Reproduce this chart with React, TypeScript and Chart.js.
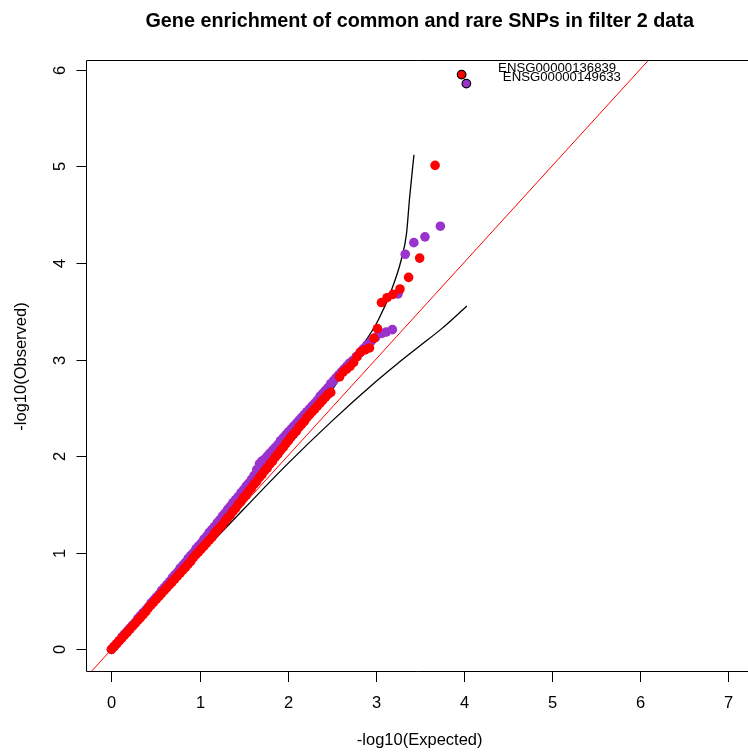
import React, { useEffect, useRef } from "react";
import { Chart, registerables } from "chart.js";

Chart.register(...registerables);

const TITLE = "Gene enrichment of common and rare SNPs in filter 2 data";
const X_TITLE = "-log10(Expected)";
const Y_TITLE = "-log10(Observed)";
const X_TICKS = [0, 1, 2, 3, 4, 5, 6, 7];
const Y_TICKS = [0, 1, 2, 3, 4, 5, 6];

// dense part of the QQ band (expected -log10 p)
const BAND_EXPECTED = [
  0.0, 0.03, 0.06, 0.09, 0.12, 0.15, 0.18, 0.21, 0.24, 0.27, 0.3, 0.33, 0.36, 0.39, 0.42, 0.45, 0.48,
  0.51, 0.54, 0.57, 0.6, 0.63, 0.66, 0.69, 0.72, 0.75, 0.78, 0.81, 0.84, 0.87, 0.9, 0.93, 0.96, 0.99,
  1.02, 1.05, 1.08, 1.11, 1.14, 1.17, 1.2, 1.23, 1.26, 1.29, 1.32, 1.35, 1.38, 1.41, 1.44, 1.47, 1.5,
  1.53, 1.56, 1.59, 1.62, 1.65, 1.68, 1.71, 1.74, 1.77, 1.8, 1.83, 1.86, 1.89, 1.92, 1.95, 1.98, 2.01,
  2.04, 2.07, 2.1, 2.13, 2.16, 2.19, 2.22, 2.25, 2.28, 2.31, 2.34, 2.37, 2.4, 2.43, 2.46, 2.49,
];
const PURPLE_BAND_OBSERVED = [
  0.0, 0.03, 0.06, 0.09, 0.13, 0.16, 0.19, 0.22, 0.25, 0.28, 0.32, 0.35, 0.38, 0.41, 0.44, 0.48, 0.51,
  0.54, 0.57, 0.61, 0.64, 0.67, 0.7, 0.74, 0.77, 0.8, 0.84, 0.87, 0.9, 0.94, 0.97, 1.0, 1.04, 1.07,
  1.1, 1.14, 1.17, 1.21, 1.24, 1.27, 1.31, 1.34, 1.38, 1.41, 1.45, 1.48, 1.52, 1.55, 1.58, 1.62, 1.65,
  1.69, 1.72, 1.76, 1.8, 1.86, 1.92, 1.95, 1.97, 2.0, 2.03, 2.06, 2.09, 2.12, 2.16, 2.19, 2.22, 2.25,
  2.28, 2.31, 2.34, 2.37, 2.4, 2.43, 2.46, 2.49, 2.52, 2.55, 2.58, 2.62, 2.65, 2.68, 2.71, 2.75,
];
const RED_BAND_OBSERVED = [
  0.0, 0.03, 0.06, 0.09, 0.12, 0.15, 0.18, 0.21, 0.24, 0.27, 0.3, 0.33, 0.36, 0.39, 0.43, 0.46, 0.49,
  0.52, 0.55, 0.58, 0.61, 0.64, 0.67, 0.7, 0.73, 0.76, 0.79, 0.82, 0.85, 0.88, 0.91, 0.95, 0.98, 1.01,
  1.04, 1.07, 1.1, 1.13, 1.16, 1.2, 1.23, 1.26, 1.29, 1.33, 1.36, 1.39, 1.43, 1.46, 1.5, 1.53, 1.57,
  1.6, 1.64, 1.67, 1.71, 1.74, 1.78, 1.81, 1.85, 1.88, 1.92, 1.95, 1.99, 2.02, 2.06, 2.09, 2.13, 2.16,
  2.2, 2.23, 2.26, 2.3, 2.33, 2.36, 2.4, 2.43, 2.46, 2.49, 2.52, 2.55, 2.58, 2.61, 2.64, 2.66,
];

// sparse upper tail
const PURPLE_TAIL_EXPECTED = [
  2.52, 2.55, 2.58, 2.61, 2.64, 2.67, 2.7, 2.74, 2.78, 2.82, 2.86, 2.9, 2.95, 3.0, 3.07, 3.12, 3.19,
  3.254, 3.336, 3.434, 3.56, 3.735,
];
const PURPLE_TAIL_OBSERVED = [
  2.78, 2.81, 2.84, 2.87, 2.9, 2.93, 2.96, 2.99, 3.03, 3.07, 3.11, 3.15, 3.19, 3.23, 3.27, 3.285, 3.31,
  3.68, 4.09, 4.21, 4.27, 4.38,
];
const RED_TAIL_EXPECTED = [
  2.59, 2.63, 2.67, 2.71, 2.75, 2.79, 2.83, 2.88, 2.93, 2.98, 3.02, 3.066, 3.13, 3.197, 3.276, 3.374,
  3.5, 3.675,
];
const RED_TAIL_OBSERVED = [
  2.82, 2.87, 2.9, 2.93, 2.97, 3.03, 3.08, 3.1, 3.12, 3.22, 3.32, 3.59, 3.64, 3.675, 3.73, 3.85, 4.05,
  5.01,
];

// labelled top genes (red series, purple series)
const TOP_GENES = ["ENSG00000136839", "ENSG00000149633"];
const TOP_EXPECTED = [3.976, 4.03];
const TOP_OBSERVED = [5.949, 5.856];

// confidence band
const UPPER_CI_EXPECTED = [0, 0.5, 1.0, 1.5, 2.0, 2.5, 2.84, 3.03, 3.18, 3.29, 3.35, 3.386, 3.435];
const UPPER_CI_OBSERVED = [0, 0.51, 1.03, 1.55, 2.09, 2.68, 3.13, 3.41, 3.72, 4.03, 4.3, 4.68, 5.12];
const LOWER_CI_EXPECTED = [0, 0.5, 1.0, 1.5, 2.0, 2.5, 3.0, 3.25, 3.5, 3.75, 4.036];
const LOWER_CI_OBSERVED = [0, 0.49, 0.974, 1.45, 1.92, 2.36, 2.77, 2.96, 3.14, 3.32, 3.554];

// identity line endpoints
const IDENTITY = [-1, 8];

const RED = "#FF0000";
const PURPLE = "#9A32CD";
const FONT = '"Liberation Sans", Arial, Helvetica, sans-serif';

const pts = (xs: number[], ys: number[]) => xs.map((x, i) => ({ x, y: ys[i] }));

const rAxesPlugin = {
  id: "rAxes",
  afterDraw(chart: any) {
    const { ctx, chartArea: ca, scales } = chart;
    const xs = scales.x;
    const ys = scales.y;
    ctx.save();
    ctx.strokeStyle = "#000";
    ctx.lineWidth = 1;
    // box (right side falls outside the picture)
    ctx.beginPath();
    ctx.moveTo(ca.right + 10, ca.top - 0.5);
    ctx.lineTo(ca.left - 0.5, ca.top - 0.5);
    ctx.lineTo(ca.left - 0.5, ca.bottom - 0.5);
    ctx.lineTo(ca.right + 10, ca.bottom - 0.5);
    ctx.stroke();

    ctx.fillStyle = "#000";
    ctx.font = `16.5px ${FONT}`;
    // x ticks
    ctx.textAlign = "center";
    ctx.textBaseline = "alphabetic";
    X_TICKS.forEach((v) => {
      const px = Math.round(xs.getPixelForValue(v)) + 0.5;
      ctx.beginPath();
      ctx.moveTo(px, ca.bottom - 0.5);
      ctx.lineTo(px, ca.bottom + 10);
      ctx.stroke();
      ctx.fillText(String(v), px, ca.bottom + 36);
    });
    // y ticks (rotated labels)
    Y_TICKS.forEach((v) => {
      const py = Math.round(ys.getPixelForValue(v)) + 0.5;
      ctx.beginPath();
      ctx.moveTo(ca.left - 0.5, py);
      ctx.lineTo(ca.left - 10.5, py);
      ctx.stroke();
      ctx.save();
      ctx.translate(ca.left - 22, py);
      ctx.rotate(-Math.PI / 2);
      ctx.fillText(String(v), 0, 0);
      ctx.restore();
    });
    const cx = xs.getPixelForValue(3.5);
    const cy = (ca.top + ca.bottom) / 2;
    // axis titles
    ctx.fillText(X_TITLE, cx, ca.bottom + 73);
    ctx.save();
    ctx.translate(ca.left - 61, cy);
    ctx.rotate(-Math.PI / 2);
    ctx.fillText(Y_TITLE, 0, 0);
    ctx.restore();
    // main title
    ctx.font = `bold 19.8px ${FONT}`;
    ctx.fillText(TITLE, cx, 27);
    // gene labels
    ctx.font = `13.2px ${FONT}`;
    ctx.textAlign = "left";
    TOP_GENES.forEach((g, i) => {
      const px = xs.getPixelForValue(TOP_EXPECTED[i]);
      const py = ys.getPixelForValue(TOP_OBSERVED[i]);
      ctx.fillText(g, px + 36.5, py - 3);
    });
    ctx.restore();
  },
};

export default function App() {
  const ref = useRef<HTMLCanvasElement>(null);
  useEffect(() => {
    if (!ref.current) return;
    const chart = new Chart(ref.current, {
      type: "scatter",
      data: {
        datasets: [
          {
            label: "top genes",
            data: pts(TOP_EXPECTED, TOP_OBSERVED),
            pointBackgroundColor: [RED, PURPLE],
            pointBorderColor: "#000",
            pointBorderWidth: 1.2,
            pointRadius: 4.3,
            showLine: false,
          },
          {
            label: "rare",
            data: [...pts(BAND_EXPECTED, RED_BAND_OBSERVED), ...pts(RED_TAIL_EXPECTED, RED_TAIL_OBSERVED)],
            pointBackgroundColor: RED,
            pointBorderWidth: 0,
            pointRadius: 4.8,
            showLine: false,
          },
          {
            label: "common",
            data: [
              ...pts(BAND_EXPECTED, PURPLE_BAND_OBSERVED),
              ...pts(PURPLE_TAIL_EXPECTED, PURPLE_TAIL_OBSERVED),
            ],
            pointBackgroundColor: PURPLE,
            pointBorderWidth: 0,
            pointRadius: 4.8,
            showLine: false,
          },
          {
            label: "upper",
            data: pts(UPPER_CI_EXPECTED, UPPER_CI_OBSERVED),
            showLine: true,
            borderColor: "#000",
            borderWidth: 1.3,
            pointRadius: 0,
            cubicInterpolationMode: "monotone",
          },
          {
            label: "lower",
            data: pts(LOWER_CI_EXPECTED, LOWER_CI_OBSERVED),
            showLine: true,
            borderColor: "#000",
            borderWidth: 1.3,
            pointRadius: 0,
            cubicInterpolationMode: "monotone",
          },
          {
            label: "identity",
            data: pts(IDENTITY, IDENTITY),
            showLine: true,
            borderColor: RED,
            borderWidth: 1,
            pointRadius: 0,
          },
        ],
      },
      options: {
        animation: false,
        responsive: false,
        events: [],
        layout: { padding: { left: 87, top: 61, right: 0, bottom: 81 } },
        plugins: { legend: { display: false }, tooltip: { enabled: false } },
        scales: {
          x: { type: "linear", min: -0.278, max: 7.166, display: false },
          y: { type: "linear", min: -0.234, max: 6.09, display: false },
        },
      },
      plugins: [rAxesPlugin],
    } as any);
    return () => chart.destroy();
  }, []);
  return (
    <div style={{ position: "fixed", left: 0, top: 0, width: 748, height: 753, background: "#fff" }}>
      <canvas ref={ref} width={748} height={753} style={{ display: "block" }} />
    </div>
  );
}
